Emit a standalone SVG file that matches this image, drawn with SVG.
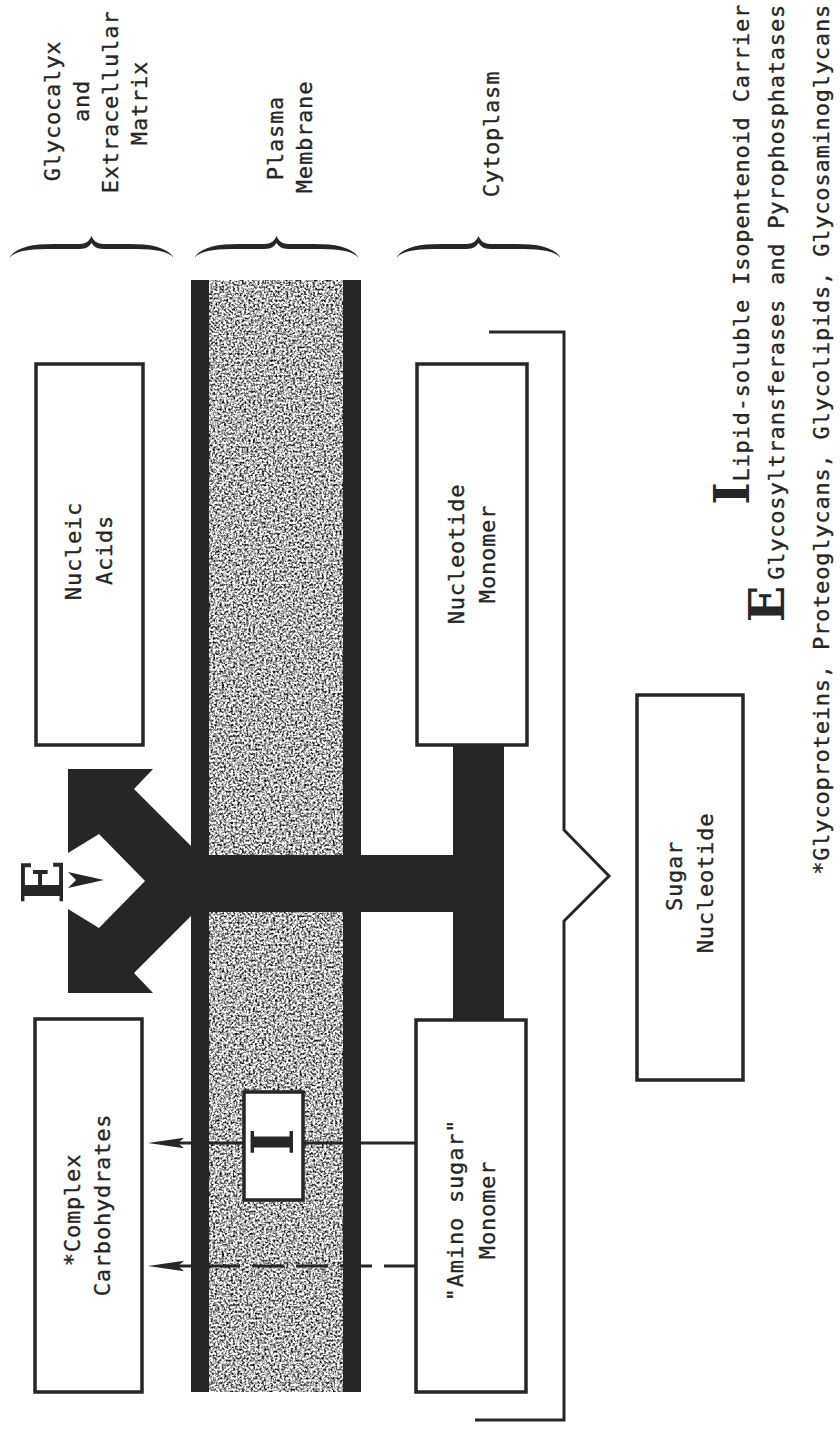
<svg xmlns="http://www.w3.org/2000/svg" width="840" height="1432" viewBox="0 0 840 1432">
<defs>
<style>
.t{font-family:"DejaVu Sans Mono","Liberation Mono",monospace;font-size:22px;letter-spacing:0.8px;fill:#262626;stroke:#262626;stroke-width:0.35px;}
.sym{font-family:"DejaVu Serif","Liberation Serif",serif;font-weight:bold;fill:#262626;stroke-width:0;}
.box{fill:#fff;stroke:#262626;stroke-width:3.5;}
.dark{fill:#262626;}
.ln{stroke:#262626;stroke-width:3;fill:none;}
.brace{fill:#262626;}
</style>
<filter id="stip" x="0" y="0" width="1" height="1" color-interpolation-filters="sRGB">
<feTurbulence type="fractalNoise" baseFrequency="0.45" numOctaves="2" seed="5"/>
<feColorMatrix type="matrix" values="2.4 0 0 0 -0.5  2.4 0 0 0 -0.5  2.4 0 0 0 -0.5  0 0 0 0 1"/>
</filter>
<marker id="ah" viewBox="0 0 36 12" refX="9" refY="6" markerWidth="36" markerHeight="12" markerUnits="userSpaceOnUse" orient="auto">
<path d="M36,6 L0,0.8 L6,6 L0,11.2 Z" fill="#262626"/>
</marker>
<path id="br" d="M-82,257 C-74,247 -60,244 -37,244 L-12,244 C-6,244 -2,241 0,236 C2,241 6,244 12,244 L37,244 C60,244 74,247 82,257 C73,250 60,249 37,249 L12,249 C5,249 2,246 0,243 C-2,246 -5,249 -12,249 L-37,249 C-60,249 -73,250 -82,257 Z"/>
</defs>
<rect width="840" height="1432" fill="#fff"/>

<g id="headers">
<text class="t" text-anchor="middle" transform="translate(60,111) rotate(-90)">Glycocalyx</text>
<text class="t" text-anchor="middle" transform="translate(89,101) rotate(-90)">and</text>
<text class="t" text-anchor="middle" transform="translate(118,102) rotate(-90)">Extracellular</text>
<text class="t" text-anchor="middle" transform="translate(147,103) rotate(-90)">Matrix</text>
<text class="t" text-anchor="middle" transform="translate(283,138) rotate(-90)">Plasma</text>
<text class="t" text-anchor="middle" transform="translate(312,137) rotate(-90)">Membrane</text>
<text class="t" text-anchor="middle" transform="translate(499,134) rotate(-90)">Cytoplasm</text>
<use href="#br" class="brace" x="91.5"/>
<use href="#br" class="brace" x="276.5"/>
<use href="#br" class="brace" x="478.5"/>
</g>

<g id="membrane">
<rect x="209" y="280" width="134" height="1112" fill="#aaa" filter="url(#stip)"/>
<rect x="191" y="280" width="18" height="1112" class="dark"/>
<rect x="343" y="280" width="18" height="1112" class="dark"/>
</g>

<g id="connectors">
<rect x="192" y="855" width="312" height="57" class="dark"/>
<rect x="453" y="744" width="51" height="277" class="dark"/>
<polygon class="dark" points="68,769 153,769 134,789 195,850 195,912 134,973 153,993 68,993 68,909 99,928 145,881 99,834 68,853"/>
<polygon class="dark" points="68,872 104,880 68,888 76,880"/>
<line class="ln" x1="416" y1="1143" x2="175" y2="1143" marker-end="url(#ah)"/>
<line class="ln" x1="416" y1="1266" x2="175" y2="1266" stroke-dasharray="32 12" marker-end="url(#ah)"/>
<path class="ln" d="M489,332 H564 V830 L609,876 L564,921 V1420 H475"/>
</g>

<g id="enzyme-E">
<text class="sym" font-size="58" text-anchor="middle" transform="translate(63,882) rotate(-90)">E</text>
</g>

<g id="node-nucleic-acids">
<rect class="box" x="36" y="364" width="107" height="381"/>
<text class="t" text-anchor="middle" transform="translate(81,551) rotate(-90)">Nucleic</text>
<text class="t" text-anchor="middle" transform="translate(112,550) rotate(-90)">Acids</text>
</g>

<g id="node-complex-carbohydrates">
<rect class="box" x="35" y="1019" width="107" height="373"/>
<text class="t" text-anchor="middle" transform="translate(80,1210) rotate(-90)">*Complex</text>
<text class="t" text-anchor="middle" transform="translate(110,1205) rotate(-90)">Carbohydrates</text>
</g>

<g id="node-carrier">
<rect class="box" x="244" y="1092" width="59" height="108"/>
<text class="sym" font-size="58" text-anchor="middle" transform="translate(293,1142) rotate(-90)">I</text>
</g>

<g id="node-nucleotide-monomer">
<rect class="box" x="417" y="364" width="110" height="381"/>
<text class="t" text-anchor="middle" transform="translate(464,554) rotate(-90)">Nucleotide</text>
<text class="t" text-anchor="middle" transform="translate(495,554) rotate(-90)">Monomer</text>
</g>

<g id="node-amino-sugar-monomer">
<rect class="box" x="416" y="1020" width="110" height="372"/>
<text class="t" text-anchor="middle" transform="translate(463,1210) rotate(-90)">"Amino sugar"</text>
<text class="t" text-anchor="middle" transform="translate(495,1210) rotate(-90)">Monomer</text>
</g>

<g id="node-sugar-nucleotide">
<rect class="box" x="637" y="695" width="106" height="385"/>
<text class="t" text-anchor="middle" transform="translate(682,876) rotate(-90)">Sugar</text>
<text class="t" text-anchor="middle" transform="translate(713,883) rotate(-90)">Nucleotide</text>
</g>

<g id="legend">
<text class="t" text-anchor="end" transform="translate(749,4) rotate(-90)"><tspan class="sym" font-size="48">I</tspan>Lipid-soluble Isopentenoid Carrier</text>
<text class="t" text-anchor="end" transform="translate(784,4) rotate(-90)"><tspan class="sym" font-size="48">E</tspan><tspan dx="5">Glycosyltransferases and Pyrophosphatases</tspan></text>
<text class="t" text-anchor="end" transform="translate(829,4) rotate(-90)">*Glycoproteins, Proteoglycans, Glycolipids, Glycosaminoglycans</text>
</g>
</svg>
